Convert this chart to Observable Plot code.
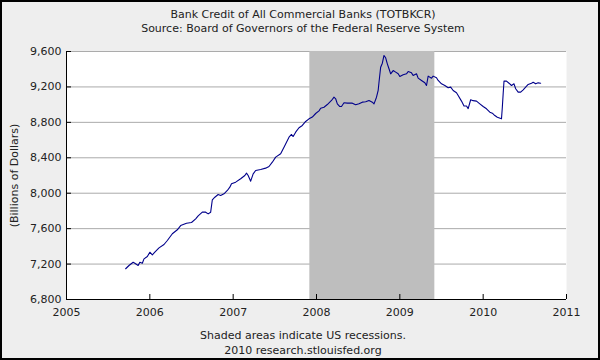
<!DOCTYPE html>
<html>
<head>
<meta charset="utf-8">
<script src="https://cdn.jsdelivr.net/npm/d3@7"></script>
<script src="https://cdn.jsdelivr.net/npm/@observablehq/plot@0.6"></script>
<style>
  html, body { margin: 0; padding: 0; background: #eeeeee; }
  #wrap { position: relative; width: 600px; height: 360px; background: #eeeeee; overflow: hidden;
          font-family: "DejaVu Sans", Verdana, sans-serif; color: #222; }
  .t { position: absolute; left: 3px; width: 600px; text-align: center; font-size: 11px; line-height: 14px; white-space: nowrap; }
  #border { position: absolute; left: 0; top: 0; width: 600px; height: 360px; box-sizing: border-box; border: 2px solid #000; pointer-events: none; }
  #plot { position: absolute; left: 0; top: 0; }
</style>
</head>
<body>
<div id="wrap">
  <div id="plot"></div>
  <div class="t" style="top:8px">Bank Credit of All Commercial Banks (TOTBKCR)</div>
  <div class="t" style="top:22px">Source: Board of Governors of the Federal Reserve System</div>
  <div class="t" style="top:329px">Shaded areas indicate US recessions.</div>
  <div class="t" style="top:344px">2010 research.stlouisfed.org</div>
  <div id="border"></div>
</div>
<script>
// Decimal year of each observation
const years = [
  2005.71, 2005.75, 2005.80, 2005.82, 2005.86, 2005.88, 2005.91, 2005.93, 2005.97, 2006.00,
  2006.03, 2006.06, 2006.11, 2006.17, 2006.21, 2006.27, 2006.33, 2006.37, 2006.44, 2006.50,
  2006.55, 2006.58, 2006.63, 2006.67, 2006.70, 2006.73, 2006.75, 2006.78, 2006.82, 2006.85,
  2006.89, 2006.93, 2006.96, 2006.98, 2007.03, 2007.09, 2007.14, 2007.16, 2007.18, 2007.21,
  2007.24, 2007.27, 2007.33, 2007.39, 2007.43, 2007.47, 2007.51, 2007.57, 2007.61, 2007.64,
  2007.67, 2007.70, 2007.72, 2007.75, 2007.79, 2007.83, 2007.87, 2007.91, 2007.95, 2007.99,
  2008.03, 2008.05, 2008.09, 2008.13, 2008.18, 2008.21, 2008.23, 2008.25, 2008.28, 2008.30,
  2008.33, 2008.37, 2008.43, 2008.47, 2008.51, 2008.55, 2008.59, 2008.63, 2008.67, 2008.69,
  2008.72, 2008.74, 2008.75, 2008.77, 2008.79, 2008.81, 2008.83, 2008.85, 2008.87, 2008.89,
  2008.92, 2008.95, 2008.98, 2009.00, 2009.04, 2009.08, 2009.10, 2009.14, 2009.16, 2009.20,
  2009.22, 2009.26, 2009.30, 2009.32, 2009.34, 2009.38, 2009.40, 2009.44, 2009.46, 2009.50,
  2009.54, 2009.58, 2009.61, 2009.64, 2009.68, 2009.70, 2009.74, 2009.77, 2009.80, 2009.82,
  2009.85, 2009.88, 2009.92, 2009.96, 2010.00, 2010.04, 2010.08, 2010.11, 2010.14, 2010.17,
  2010.22, 2010.23, 2010.24, 2010.25, 2010.28, 2010.31, 2010.34, 2010.37, 2010.39, 2010.42,
  2010.45, 2010.48, 2010.51, 2010.54, 2010.58, 2010.60, 2010.63, 2010.66, 2010.69
];
// Bank credit, billions of dollars
const credit = [
  7147, 7184, 7221, 7210, 7184, 7221, 7210, 7259, 7285, 7334,
  7304, 7334, 7383, 7421, 7466, 7542, 7587, 7635, 7661, 7669,
  7711, 7745, 7786, 7786, 7767, 7786, 7926, 7955, 7985, 7974,
  7993, 8031, 8068, 8106, 8125, 8163, 8200, 8226, 8200, 8136,
  8219, 8256, 8268, 8283, 8302, 8350, 8407, 8445, 8520, 8576,
  8633, 8663, 8640, 8689, 8739, 8765, 8810, 8840, 8860, 8900,
  8930, 8960, 8971, 9001, 9047, 9084, 9066, 9009, 8979, 8979,
  9021, 9017, 9017, 8998, 9009, 9028, 9032, 9047, 9028, 9009,
  9084, 9160, 9253, 9423, 9468, 9555, 9529, 9461, 9405, 9348,
  9385, 9367, 9348, 9318, 9337, 9348, 9374, 9359, 9329, 9348,
  9299, 9273, 9247, 9216, 9322, 9299, 9322, 9303, 9273, 9235,
  9216, 9190, 9198, 9160, 9134, 9104, 9040, 8985, 8985, 8955,
  9055, 9045, 9040, 9009, 8979, 8953, 8915, 8904, 8877, 8858,
  8840, 8971, 9122, 9265, 9265, 9242, 9216, 9235, 9179, 9141,
  9141, 9167, 9198, 9228, 9242, 9253, 9235, 9246, 9242
];
const recessionStart = [2007.92];
const recessionEnd = [2009.42];
const xTicks = [2005, 2006, 2007, 2008, 2009, 2010, 2011];
const yTicks = [6800, 7200, 7600, 8000, 8400, 8800, 9200, 9600];
const yLabel = "(Billions of Dollars)";

const series = years.map((y, i) => ({year: y, value: credit[i]}));
const recessions = recessionStart.map((s, i) => ({start: s, end: recessionEnd[i]}));
const xDomain = [xTicks[0], xTicks[xTicks.length - 1]];
const yDomain = [yTicks[0], yTicks[yTicks.length - 1]];

const chart = Plot.plot({
  width: 600,
  height: 360,
  marginLeft: 66,
  marginRight: 34,
  marginTop: 51,
  marginBottom: 61,
  style: {background: "transparent", fontFamily: "DejaVu Sans, Verdana, sans-serif", fontSize: "11px", color: "#222"},
  x: {domain: xDomain, ticks: xTicks},
  y: {domain: yDomain, ticks: yTicks},
  marks: [
    Plot.frame({fill: "white", stroke: null}),
    Plot.gridY(yTicks.slice(1), {stroke: "#ababab", strokeOpacity: 1}),
    Plot.rect(recessions, {x1: "start", x2: "end", fill: "#bebebe"}),
    Plot.line(series, {x: "year", y: "value", stroke: "#00008b", strokeWidth: 1.1}),
    Plot.ruleX([xDomain[0]], {stroke: "#000"}),
    Plot.ruleY([yDomain[0]], {stroke: "#000"}),
    Plot.axisY(yTicks, {anchor: "left", tickSize: -5, tickPadding: 10, tickFormat: d3.format(","),
      label: yLabel, labelAnchor: "center", labelOffset: 56, labelArrow: "none", stroke: "#000"}),
    Plot.axisX(xTicks, {anchor: "bottom", tickSize: -5, tickPadding: 14, tickFormat: d3.format("d"),
      label: null, stroke: "#000"})
  ]
});
document.getElementById("plot").appendChild(chart);
</script>
</body>
</html>
